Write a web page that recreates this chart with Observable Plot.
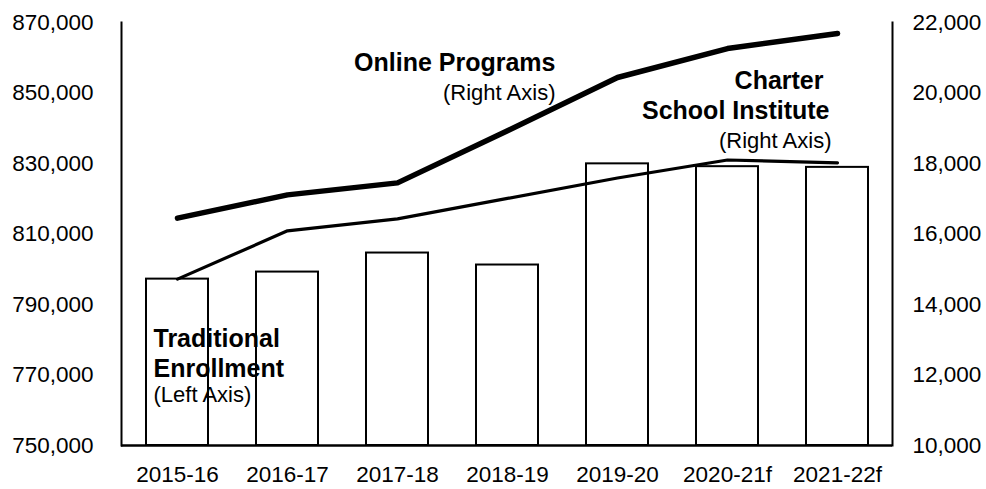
<!DOCTYPE html>
<html><head><meta charset="utf-8">
<script src="https://cdn.jsdelivr.net/npm/d3@7"></script>
<script src="https://cdn.jsdelivr.net/npm/@observablehq/plot@0.6"></script>
<style>
body{margin:0;background:#fff;}
#chart svg{display:block;}
</style>
</head><body><div id="chart"></div>
<script>
const years = ["2015-16","2016-17","2017-18","2018-19","2019-20","2020-21f","2021-22f"];
const traditional = [797200, 799200, 804600, 801200, 829900, 829100, 828900];
const online = [16450, 17110, 17450, 18930, 20440, 21260, 21690];
const charter = [14720, 16090, 16430, 17010, 17590, 18100, 18020];
const leftTicks = [750000, 770000, 790000, 810000, 830000, 850000, 870000];
const rightTicks = [10000, 12000, 14000, 16000, 18000, 20000, 22000];

// right axis (10,000–22,000) mapped onto left axis (750,000–870,000)
const toLeft = v => 750000 + (v - 10000) * 10;
const fromLeft = v => (v - 750000) / 10 + 10000;
const fmt = d3.format(",");

const bars = years.map((y, i) => ({year: y, value: traditional[i]}));
const onlineData = years.map((y, i) => ({year: y, value: toLeft(online[i])}));
const charterData = years.map((y, i) => ({year: y, value: toLeft(charter[i])}));

const bold = {fontWeight: "bold", fontSize: 25};
const reg = {fontSize: 22};

const plot = Plot.plot({
  width: 986,
  height: 489,
  marginLeft: 121,
  marginRight: 94,
  marginTop: 22,
  marginBottom: 44,
  style: {fontFamily: "'Liberation Sans', Arial, sans-serif", fontSize: "22px", color: "#000", background: "#fff"},
  x: {domain: years, paddingInner: 0.44, paddingOuter: 0.22, label: null},
  y: {domain: [750000, 870000], label: null},
  marks: [
    Plot.barY(bars, {x: "year", y1: 750000, y2: "value", fill: "white", stroke: "black", strokeWidth: 2}),
    Plot.line(charterData, {x: "year", y: "value", stroke: "black", strokeWidth: 3.2, strokeLinejoin: "round"}),
    Plot.line(onlineData, {x: "year", y: "value", stroke: "black", strokeWidth: 5.5, strokeLinecap: "round", strokeLinejoin: "round"}),
    Plot.ruleY([750000], {stroke: "black", strokeWidth: 2.5}),
    Plot.frame({anchor: "left", stroke: "black", strokeWidth: 2}),
    Plot.frame({anchor: "right", stroke: "black", strokeWidth: 2}),
    Plot.axisX({tickSize: 0, tickPadding: 21, fontSize: 22.5}),
    Plot.axisY({anchor: "left", ticks: leftTicks, tickSize: 0, tickPadding: 28, tickFormat: fmt, fontSize: 22.5}),
    Plot.axisY({anchor: "right", ticks: leftTicks, tickSize: 0, tickPadding: 20, tickFormat: d => fmt(fromLeft(d)), fontSize: 22.5}),
    // annotations
    Plot.text(["Online Programs"], {x: ["2018-19"], y: [858400], dx: 48, textAnchor: "end", ...bold}),
    Plot.text(["(Right Axis)"], {x: ["2018-19"], y: [849900], dx: 48, textAnchor: "end", ...reg}),
    Plot.text(["Charter"], {x: ["2021-22f"], y: [853400], dx: -14, textAnchor: "end", ...bold}),
    Plot.text(["School Institute"], {x: ["2021-22f"], y: [845000], dx: -8, textAnchor: "end", ...bold}),
    Plot.text(["(Right Axis)"], {x: ["2021-22f"], y: [836500], dx: -6, textAnchor: "end", ...reg}),
    Plot.text(["Traditional"], {x: ["2015-16"], y: [780100], dx: -24, textAnchor: "start", ...bold}),
    Plot.text(["Enrollment"], {x: ["2015-16"], y: [771800], dx: -24, textAnchor: "start", ...bold}),
    Plot.text(["(Left Axis)"], {x: ["2015-16"], y: [764200], dx: -24, textAnchor: "start", ...reg})
  ]
});
document.getElementById("chart").appendChild(plot);
</script>
</body></html>
